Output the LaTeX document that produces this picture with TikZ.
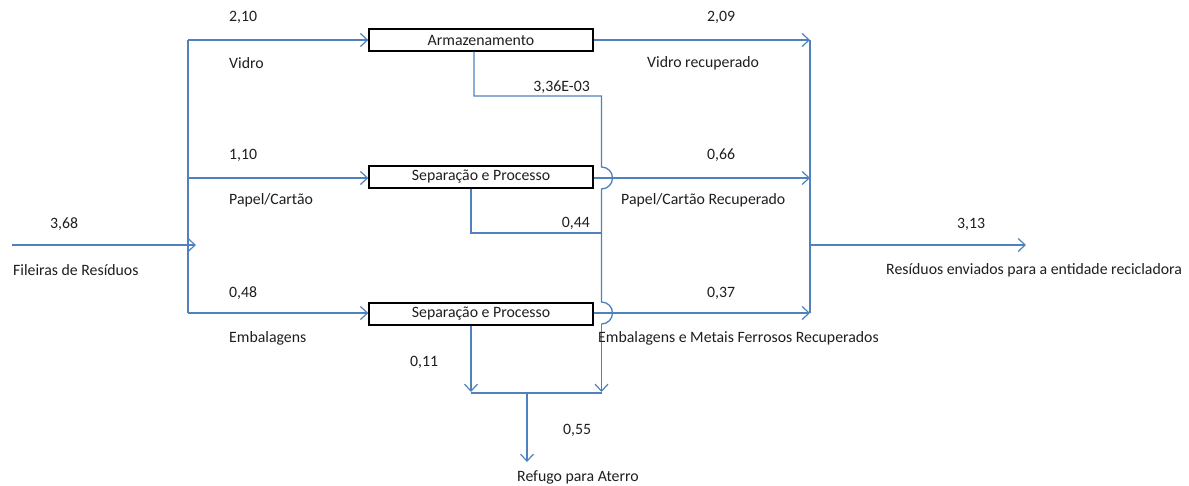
\documentclass[tikz,border=0pt]{standalone}
\usepackage{fontspec}
\setmainfont{Carlito}
\usetikzlibrary{arrows.meta,calc}
\definecolor{flow}{RGB}{79,129,189}
\definecolor{txt}{RGB}{30,30,30}
\tikzset{
  flowline/.style={draw=flow,line width=1.3pt},
  flowarrow/.style={flowline,-{Straight Barb[length=7pt,width=13pt,line width=1.2pt]}},
  procbox/.style={draw=black,line width=1.3pt,minimum width=224pt,minimum height=22pt,inner sep=0pt,text=txt,font=\fontsize{15.8}{17}\selectfont},
  lbl/.style={anchor=west,inner sep=0pt,text=txt,font=\fontsize{15.8}{17}\selectfont}
}
\begin{document}
\begin{tikzpicture}[x=1pt,y=-1pt]
\useasboundingbox (0,0) rectangle (1189,486);
% boxes
\node[procbox] (b1) at (481,40) {Armazenamento};
\node[procbox] (b2) at (481,177) {Separação e Processo};
\node[procbox] (b3) at (481,314) {Separação e Processo};
% coordinates
\coordinate (src) at (12,245);
\coordinate (srcend) at (196,245);
\coordinate (t1) at (188,40);
\coordinate (t2) at (188,178);
\coordinate (t3) at (188,313);
\coordinate (c1) at (810,40);
\coordinate (c2) at (810,178);
\coordinate (c3) at (810,313);
\coordinate (cm) at (810,245);
\coordinate (out) at (1026,245);
\coordinate (j1) at (601.5,96);
\coordinate (h1) at (601.5,167);
\coordinate (h2) at (601.5,302);
\coordinate (h2e) at (601.5,324);
\coordinate (j2) at (601.5,233);
\coordinate (rr) at (601.5,392);
\coordinate (rl) at (471,392);
\coordinate (bl) at (471,393);
\coordinate (br) at (601.5,393);
\coordinate (bm) at (527,393);
\coordinate (land) at (527,462);
% input
\draw[flowarrow] (src) -- (srcend);
\draw[flowline] (t1) -- (t3);
\draw[flowarrow] (t1) -- (b1.west);
\draw[flowarrow] (t2) -- (b2.west |- t2);
\draw[flowarrow] (t3) -- (b3.west |- t3);
% outputs
\draw[flowarrow] (b1.east) -- (c1);
\draw[flowarrow] (b2.east |- c2) -- (c2);
\draw[flowarrow] (b3.east |- c3) -- (c3);
\draw[flowline] (c1) -- (c3);
\draw[flowarrow] (cm) -- (out);
% losses
\draw[flowline] ([xshift=-7pt]b1.south) |- (j1) -- (h1)
  arc[start angle=-90,end angle=90,radius=11] -- (h2)
  arc[start angle=-90,end angle=90,radius=11];
\draw[flowarrow] (h2e) -- (rr);
\draw[flowline] ([xshift=-10pt]b2.south) |- (j2);
\draw[flowarrow] ([xshift=-10pt]b3.south) -- (rl);
\draw[flowline] (bl) -- (br);
\draw[flowarrow] (bm) -- (land);
% labels
\node[lbl] (l210) at (229,17) {2,10};
\node[lbl] (lvid) at (229,63) {Vidro};
\node[lbl] (l110) at (229,155) {1,10};
\node[lbl] (lpap) at (229,200) {Papel/Cartão};
\node[lbl] (l048) at (229,293) {0,48};
\node[lbl] (lemb) at (229,338) {Embalagens};
\node[lbl] (l368) at (50,224) {3,68};
\node[lbl] (lfil) at (13,270) {Fileiras de Resíduos};
\node[lbl] (l209) at (707,17) {2,09};
\node[lbl] (lvr) at (647,63) {Vidro recuperado};
\node[lbl] (l066) at (707,155) {0,66};
\node[lbl] (lpr) at (621,200) {Papel/Cartão Recuperado};
\node[lbl] (l037) at (707,293) {0,37};
\node[lbl] (lemr) at (598,338) {Embalagens e Metais Ferrosos Recuperados};
\node[lbl] (l313) at (957,224) {3,13};
\node[lbl] (lres) at (886,270) {Resíduos enviados para a entidade recicladora};
\node[lbl,anchor=east] (l336) at (590,87) {3,36E-03};
\node[lbl,anchor=east] (l044) at (590,223) {0,44};
\node[lbl] (l011) at (410,362) {0,11};
\node[lbl] (l055) at (563,430) {0,55};
\node[lbl] (lref) at (517,477) {Refugo para Aterro};
\end{tikzpicture}
\end{document}
